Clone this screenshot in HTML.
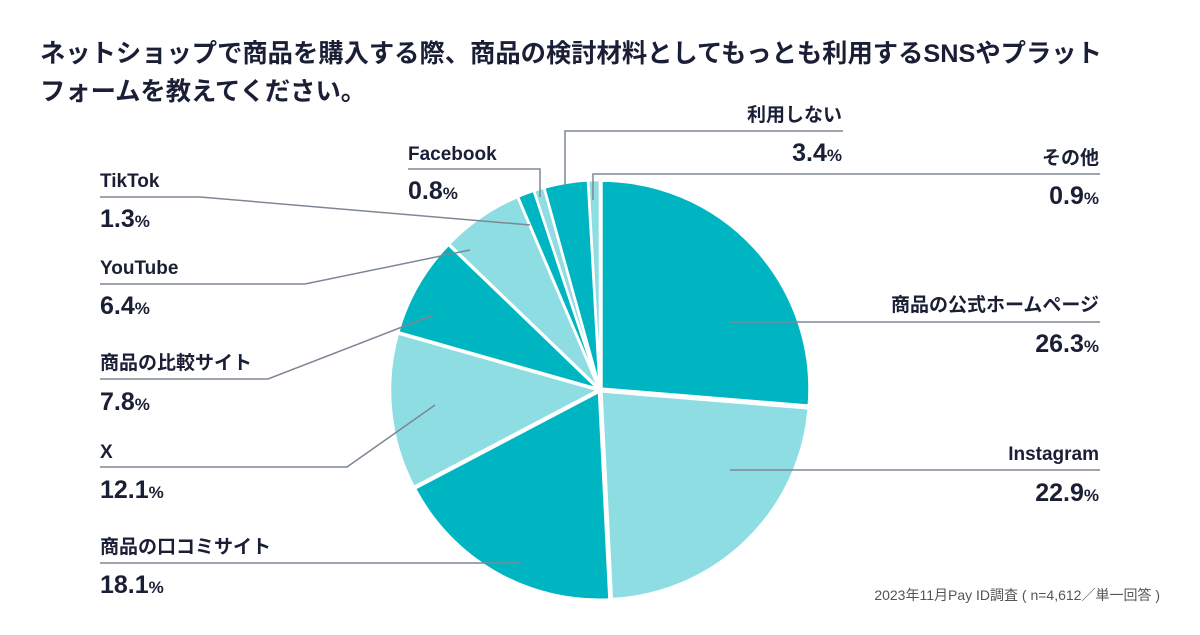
<!DOCTYPE html>
<html><head><meta charset="utf-8"><style>
body{margin:0;background:#fff;}
svg text{font-family:"Liberation Sans","Noto Sans CJK JP",sans-serif;fill:#1a1f36;font-weight:bold;}
</style></head><body>
<svg id="s" width="1200" height="630" xmlns="http://www.w3.org/2000/svg">
<text x="40" y="62" font-size="25.3">ネットショップで商品を購入する際、商品の検討材料としてもっとも利用するSNSやプラット</text>
<text x="40" y="100" font-size="25.3">フォームを教えてください。</text>
<g id="pie"></g>
<g stroke="#7d8794" stroke-width="1.5" fill="none">
<polyline points="408,169 540,169 540,197"/>
<polyline points="565,185 565,131 843,131"/>
<polyline points="593,200 593,174 1100,174"/>
<polyline points="730,322 1100,322"/>
<polyline points="730,470 1100,470"/>
<polyline points="100,563 522,563"/>
<polyline points="100,467 347,467 435,405"/>
<polyline points="100,379 268,379 433,315"/>
<polyline points="100,284 305,284 470,250"/>
<polyline points="100,197 200,197 530,225"/>
</g>
<g font-size="19">
<text x="408" y="160">Facebook</text>
<text x="842" y="121" text-anchor="end">利用しない</text>
<text x="1099" y="164" text-anchor="end">その他</text>
<text x="1099" y="311" text-anchor="end">商品の公式ホームページ</text>
<text x="1099" y="460" text-anchor="end">Instagram</text>
<text x="100" y="553">商品の口コミサイト</text>
<text x="100" y="458">X</text>
<text x="100" y="369">商品の比較サイト</text>
<text x="100" y="274">YouTube</text>
<text x="100" y="187">TikTok</text>
</g>
<g font-size="25">
<text x="408" y="199">0.8<tspan font-size="17">%</tspan></text>
<text x="842" y="161" text-anchor="end">3.4<tspan font-size="17">%</tspan></text>
<text x="1099" y="204" text-anchor="end">0.9<tspan font-size="17">%</tspan></text>
<text x="1099" y="352" text-anchor="end">26.3<tspan font-size="17">%</tspan></text>
<text x="1099" y="501" text-anchor="end">22.9<tspan font-size="17">%</tspan></text>
<text x="100" y="593">18.1<tspan font-size="17">%</tspan></text>
<text x="100" y="498">12.1<tspan font-size="17">%</tspan></text>
<text x="100" y="410">7.8<tspan font-size="17">%</tspan></text>
<text x="100" y="314">6.4<tspan font-size="17">%</tspan></text>
<text x="100" y="227">1.3<tspan font-size="17">%</tspan></text>
</g>
<text x="1160" y="600" font-size="14" text-anchor="end" style="font-weight:normal;fill:#555">2023年11月Pay ID調査 ( n=4,612／単一回答 )</text>
</svg>
<script>
var d=[26.3,22.9,18.1,12.1,7.8,6.4,1.3,0.8,3.4,0.9],cx=600,cy=390,r=208,a=0,h='';
d.forEach(function(v,i){var b=a+v*3.6,m=(a+b)/2*Math.PI/180,ox=cx+2*Math.sin(m),oy=cy-2*Math.cos(m);
function p(t){t=t*Math.PI/180;return (ox+r*Math.sin(t)).toFixed(2)+','+(oy-r*Math.cos(t)).toFixed(2);}
h+='<path d="M'+ox.toFixed(2)+','+oy.toFixed(2)+' L'+p(a)+' A'+r+','+r+' 0 '+(b-a>180?1:0)+',1 '+p(b)+' Z" fill="'+(i%2?'#8edde3':'#00b5c2')+'" stroke="#fff" stroke-width="2.5"/>';a=b;});
document.getElementById('pie').innerHTML=h;
</script>
</body></html>
